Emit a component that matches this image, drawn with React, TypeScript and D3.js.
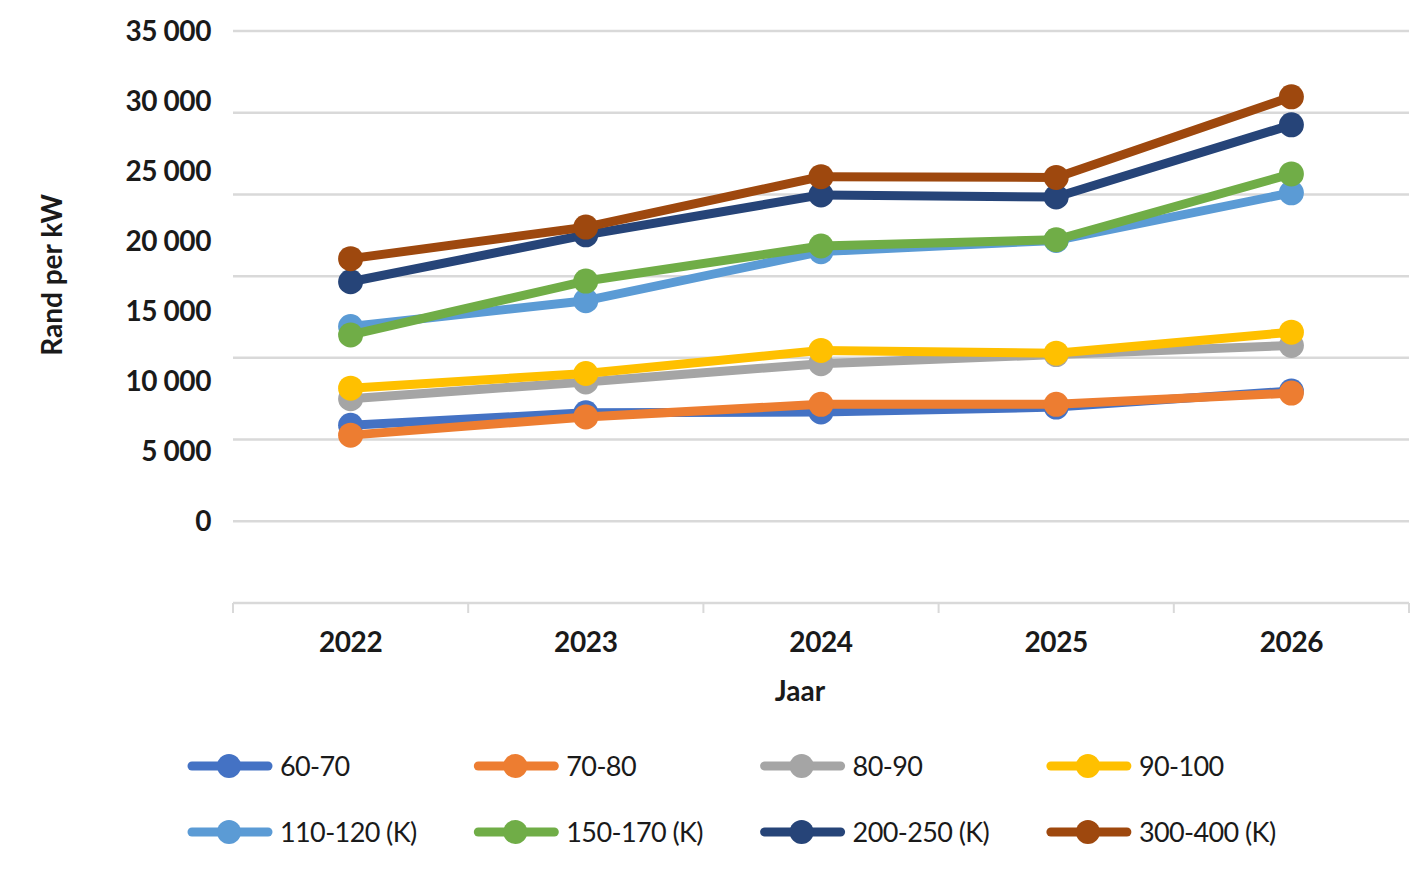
import * as d3 from 'd3';

const years = ['2022', '2023', '2024', '2025', '2026'];

const seriesNames = [
  '60-70',
  '70-80',
  '80-90',
  '90-100',
  '110-120 (K)',
  '150-170 (K)',
  '200-250 (K)',
  '300-400 (K)',
];

const seriesColors = [
  '#4472C4',
  '#ED7D31',
  '#A5A5A5',
  '#FFC000',
  '#5B9BD5',
  '#70AD47',
  '#264478',
  '#9E480E',
];

const v6070 = [6850, 7750, 7800, 8150, 9300];
const v7080 = [6150, 7450, 8350, 8350, 9150];
const v8090 = [8750, 9950, 11250, 11900, 12550];
const v90100 = [9500, 10550, 12200, 12000, 13500];
const v110120 = [13900, 15750, 19250, 20050, 23450];
const v150170 = [13300, 17150, 19650, 20100, 24800];
const v200250 = [17100, 20450, 23300, 23150, 28300];
const v300400 = [18750, 21000, 24600, 24550, 30300];

const seriesValues = [v6070, v7080, v8090, v90100, v110120, v150170, v200250, v300400];

const yTicks = [0, 5000, 10000, 15000, 20000, 25000, 30000, 35000];

const width = 1424;
const height = 879;
const left = 233;
const right = 1409;
const top = 31;
const bottom = 603;
const font = 'Lato, "Open Sans", sans-serif';

export default function App() {
  const x = d3.scaleBand<string>().domain(years).range([left, right]);
  const cx = (yr: string) => (x(yr) ?? 0) + x.bandwidth() / 2;
  // gridlines sit every 35000/6, labels every 5000 (as in the source chart)
  const step = 35000 / 6;
  const y = d3.scaleLinear().domain([-step, 35000]).range([bottom, top]);
  const gridValues = d3.range(0, 7).map((i) => i * step);
  const fmt = (v: number) => d3.format(',')(v).replace(/,/g, ' ');

  const line = d3
    .line<number>()
    .x((_, i) => cx(years[i]))
    .y((d) => y(d));

  const tickXs = [...years.map((yr) => x(yr) ?? 0), right];

  return (
    <svg
      width={width}
      height={height}
      style={{ position: 'absolute', left: 0, top: 0, display: 'block', background: '#fff' }}
    >
      {gridValues.map((v) => (
        <line key={v} x1={left} x2={right} y1={y(v)} y2={y(v)} stroke='#d9d9d9' strokeWidth={2.5} />
      ))}
      <line x1={left} x2={right} y1={bottom} y2={bottom} stroke='#d9d9d9' strokeWidth={2.5} />
      {tickXs.map((tx, i) => (
        <line key={i} x1={tx} x2={tx} y1={bottom} y2={bottom + 10} stroke='#d9d9d9' strokeWidth={2} />
      ))}

      {yTicks.map((v) => (
        <text
          key={v}
          x={211}
          y={y(v)}
          dy='0.36em'
          textAnchor='end'
          fontFamily={font}
          fontWeight={700}
          fontSize={28}
          letterSpacing={-0.4}
          fill='#1a1a1a'
        >
          {fmt(v)}
        </text>
      ))}

      {years.map((yr) => (
        <text
          key={yr}
          x={cx(yr)}
          y={642}
          dy='0.36em'
          textAnchor='middle'
          fontFamily={font}
          fontWeight={700}
          fontSize={28}
          letterSpacing={-0.4}
          fill='#1a1a1a'
        >
          {yr}
        </text>
      ))}

      <text
        x={800}
        y={691}
        dy='0.36em'
        textAnchor='middle'
        fontFamily={font}
        fontWeight={700}
        fontSize={28}
        fill='#1a1a1a'
      >
        Jaar
      </text>
      <text
        transform='translate(52, 275) rotate(-90)'
        dy='0.36em'
        textAnchor='middle'
        fontFamily={font}
        fontWeight={700}
        fontSize={28}
        fill='#1a1a1a'
      >
        Rand per kW
      </text>

      {seriesValues.map((vals, s) => (
        <g key={seriesNames[s]}>
          <path
            d={line(vals) ?? ''}
            fill='none'
            stroke={seriesColors[s]}
            strokeWidth={9}
            strokeLinejoin='round'
          />
          {vals.map((v, i) => (
            <circle key={i} cx={cx(years[i])} cy={y(v)} r={12.5} fill={seriesColors[s]} />
          ))}
        </g>
      ))}

      {seriesNames.map((name, s) => {
        const lx = 188 + (s % 4) * 286.3;
        const ly = s < 4 ? 766 : 832;
        return (
          <g key={name}>
            <line
              x1={lx + 4}
              x2={lx + 80}
              y1={ly}
              y2={ly}
              stroke={seriesColors[s]}
              strokeWidth={9}
              strokeLinecap='round'
            />
            <circle cx={lx + 41} cy={ly} r={12} fill={seriesColors[s]} />
            <text
              x={lx + 92}
              y={ly}
              dy='0.36em'
              fontFamily={font}
              fontWeight={400}
              fontSize={27}
              letterSpacing={-0.6}
              fill='#1a1a1a'
            >
              {name}
            </text>
          </g>
        );
      })}
    </svg>
  );
}
